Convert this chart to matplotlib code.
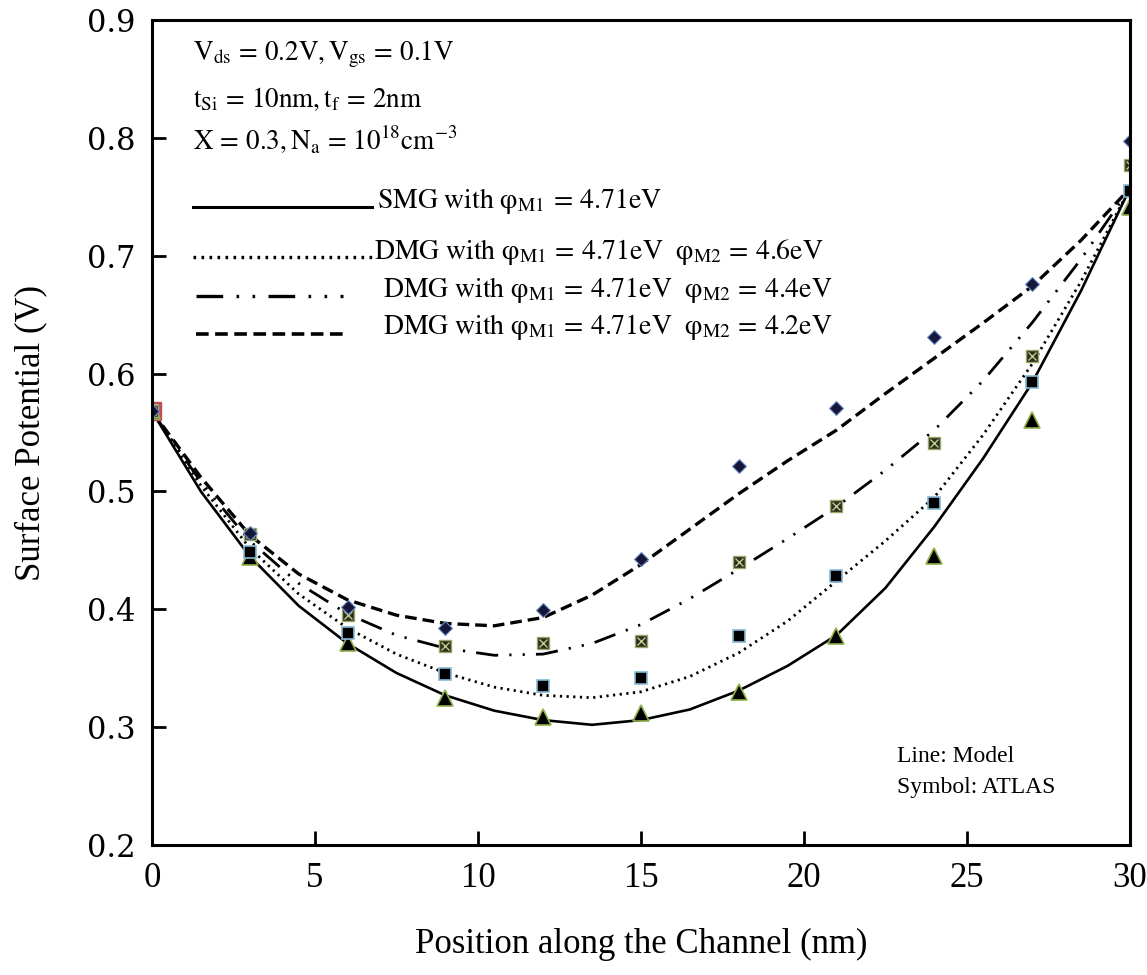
import numpy as np
import matplotlib
matplotlib.use("Agg")
import matplotlib.pyplot as plt

plt.rcParams['font.family'] = ['Liberation Serif', 'DejaVu Serif']
plt.rcParams['mathtext.fontset'] = 'stix'

# model curves (every 1.5 nm)
x_model = [0, 1.5, 3, 4.5, 6, 7.5, 9, 10.5, 12, 13.5, 15,
           16.5, 18, 19.5, 21, 22.5, 24, 25.5, 27, 28.5, 30]
smg_model = [0.568, 0.500, 0.445, 0.403, 0.371, 0.346, 0.327, 0.314, 0.306, 0.302, 0.306,
             0.315, 0.331, 0.352, 0.378, 0.418, 0.470, 0.528, 0.592, 0.670, 0.757]
dmg46_model = [0.568, 0.505, 0.452, 0.413, 0.384, 0.362, 0.346, 0.334, 0.327, 0.325, 0.330,
               0.343, 0.363, 0.390, 0.424, 0.458, 0.495, 0.548, 0.608, 0.678, 0.757]
dmg44_model = [0.568, 0.508, 0.458, 0.422, 0.396, 0.378, 0.367, 0.361, 0.362, 0.371, 0.387,
               0.409, 0.434, 0.460, 0.487, 0.518, 0.552, 0.594, 0.643, 0.697, 0.757]
dmg42_model = [0.568, 0.512, 0.463, 0.430, 0.408, 0.395, 0.388, 0.386, 0.393, 0.412, 0.438,
               0.468, 0.498, 0.526, 0.552, 0.583, 0.613, 0.643, 0.674, 0.713, 0.757]

# ATLAS points
x_atlas = [0, 3, 6, 9, 12, 15, 18, 21, 24, 27, 30]
smg_atlas = [0.568, 0.444, 0.371, 0.325, 0.309, 0.312, 0.330, 0.377, 0.445, 0.561, 0.741]
dmg46_atlas = [0.568, 0.449, 0.380, 0.345, 0.335, 0.342, 0.377, 0.428, 0.490, 0.593, 0.755]
dmg44_atlas = [0.568, 0.464, 0.395, 0.369, 0.371, 0.373, 0.440, 0.488, 0.541, 0.615, 0.777]
dmg42_atlas = [0.568, 0.465, 0.402, 0.384, 0.399, 0.443, 0.522, 0.571, 0.631, 0.676, 0.797]

fig = plt.figure(figsize=(11.47, 9.75), dpi=100)
ax = fig.add_axes([0.1325, 0.1333, 0.8525, 0.8462])

ax.plot(x_model, smg_model, color='black', lw=1.9, ls='-')
ax.plot(x_model, dmg46_model, color='black', lw=2.0, ls=(0, (0.8, 1.6)))
ax.plot(x_model, dmg44_model, color='black', lw=2.0, ls=(0, (8, 4, 0.8, 4, 0.8, 4)))
ax.plot(x_model, dmg42_model, color='black', lw=2.4, ls=(0, (3.5, 1.8)))

# odd red square hidden behind the first points
ax.plot([x_atlas[0]], [smg_atlas[0]], 's', ms=13, mfc='#c0504d', mec='#c0504d', ls='none')
ax.plot(x_atlas, smg_atlas, '^', ms=11, mfc='black', mec='#8fb04a', mew=1.2, ls='none')
ax.plot(x_atlas, dmg46_atlas, 's', ms=9, mfc='black', mec='#86b8d6', mew=1.2, ls='none')
ax.plot(x_atlas, dmg44_atlas, 's', ms=9, mfc='#2e2e20', mec='#9aa86a', mew=1.0, ls='none')
ax.plot(x_atlas, dmg44_atlas, 'x', ms=6, mec='#b8cc8c', mew=1.0, ls='none')
ax.plot(x_atlas, dmg42_atlas, 'D', ms=7, mfc='#16163a', mec='#6b8cc7', mew=0.8, ls='none')

ax.set_xlim(0, 30)
ax.set_ylim(0.2, 0.9)
ax.set_xticks([0, 5, 10, 15, 20, 25, 30])
ax.set_yticks([0.2, 0.3, 0.4, 0.5, 0.6, 0.7, 0.8, 0.9])
ax.set_yticklabels(['%.1f' % v for v in ax.get_yticks()], family='DejaVu Serif', fontsize=22)
ax.tick_params(axis='x', direction='in', length=10, width=2, labelsize=25, pad=12)
ax.tick_params(axis='y', direction='in', length=10, width=2, pad=12)
for s in ax.spines.values():
    s.set_linewidth(2.2)

ax.set_xlabel('Position along the Channel (nm)', fontsize=25, labelpad=24)
ax.set_ylabel('Surface Potential (V)', fontsize=25, labelpad=28)

# parameter text
tkw = dict(transform=ax.transAxes, fontsize=19.5, va='center', ha='left')
ax.text(0.042, 0.958, r'$\mathrm{V_{ds}\,=\,0.2V, V_{gs}\,=\,0.1V}$', **tkw)
ax.text(0.042, 0.904, r'$\mathrm{t_{Si}\,=\,10nm, t_{f}\,=\,2nm}$', **tkw)
ax.text(0.042, 0.855, r'$\mathrm{X\,=\,0.3, N_{a}\,=\,10^{18}cm^{-3}}$', **tkw)

# hand made legend
ax.plot([0.042, 0.225], [0.773, 0.773], transform=ax.transAxes, color='black', lw=2.2, ls='-')
ax.plot([0.042, 0.225], [0.713, 0.713], transform=ax.transAxes, color='black', lw=2.4, ls=(0, (0.8, 1.6)))
ax.plot([0.045, 0.195], [0.665, 0.665], transform=ax.transAxes, color='black', lw=2.4, ls=(0, (8, 4, 0.8, 4, 0.8, 4)))
ax.plot([0.045, 0.195], [0.619, 0.619], transform=ax.transAxes, color='black', lw=2.6, ls=(0, (3.5, 1.8)))
lkw = dict(transform=ax.transAxes, fontsize=20, va='center', ha='left')
ax.text(0.230, 0.781, r'$\mathrm{SMG\ with\ \varphi_{M1}\,=\,4.71eV}$', **lkw)
ax.text(0.227, 0.719, r'$\mathrm{DMG\ with\ \varphi_{M1}\,=\,4.71eV\ \ \varphi_{M2}\,=\,4.6eV}$', **lkw)
ax.text(0.236, 0.673, r'$\mathrm{DMG\ with\ \varphi_{M1}\,=\,4.71eV\ \ \varphi_{M2}\,=\,4.4eV}$', **lkw)
ax.text(0.236, 0.628, r'$\mathrm{DMG\ with\ \varphi_{M1}\,=\,4.71eV\ \ \varphi_{M2}\,=\,4.2eV}$', **lkw)

ax.text(0.762, 0.107, 'Line: Model', transform=ax.transAxes, fontsize=17, va='center')
ax.text(0.762, 0.070, 'Symbol: ATLAS', transform=ax.transAxes, fontsize=17, va='center')

fig.savefig('out.png', dpi=100)
